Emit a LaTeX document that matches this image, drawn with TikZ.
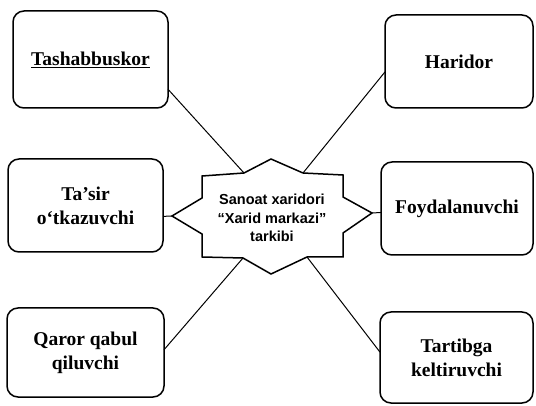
\documentclass[tikz,border=0pt]{standalone}
\usepackage{fontspec}
\setmainfont{Liberation Serif}
\newfontfamily\centerfont{Liberation Sans}
\usetikzlibrary{calc}

\begin{document}
\begin{tikzpicture}[inner sep=0pt,outer sep=0pt,x=1pt,y=-1pt,
    role_box/.style={draw, line width=1.5pt, rounded corners=11pt, align=center,
        font=\fontsize{19.5}{24}\selectfont\bfseries},
    link/.style={line width=1pt}]
    \useasboundingbox (0,0) rectangle (536,406);

    % left column
    \node[role_box, minimum width=155pt, minimum height=97pt] (box_tash) at (90.5,59.5)
    {\underline{Tashabbuskor}};
    \node[role_box, minimum width=155pt, minimum height=93pt] (box_tasir) at (85.5,205.5)
    {Ta’sir\\o‘tkazuvchi};
    \node[role_box, minimum width=157pt, minimum height=89pt] (box_qaror) at (85.5,352.5)
    {Qaror qabul\\qiluvchi};

    % right column
    \node[role_box, minimum width=148pt, minimum height=93pt] (box_harid) at (459,61.5)
    {Haridor};
    \node[role_box, minimum width=152pt, minimum height=93pt] (box_foyd) at (457,208.5)
    {Foydalanuvchi};
    \node[role_box, minimum width=153pt, minimum height=91pt] (box_tartib) at (456.5,357.5)
    {Tartibga\\keltiruvchi};

    % centre star
    \coordinate (st_left) at (172,216);
    \coordinate (st_tl) at (244,173);
    \coordinate (st_tr) at (303,173);
    \coordinate (st_right) at (372,213);
    \coordinate (st_br) at (307,257);
    \coordinate (st_bl) at (243,258);
    \draw[line width=1.5pt, line join=miter] (st_left) -- (202,198) -- (202,176) -- (st_tl)
        -- (271,159) -- (st_tr) -- (343,175) -- (343,197) -- (st_right) -- (343,233)
        -- (343,257) -- (st_br) -- (271,274) -- (st_bl) -- (202,257) -- (202,234) -- cycle;
    \node[align=center, font=\centerfont\fontsize{14.5}{18.5}\selectfont\bfseries] (centre) at (272,218)
    {Sanoat xaridori\\“Xarid markazi”\\tarkibi};

    % links
    \draw[link] (box_tash.-21) -- (st_tl);
    \draw[link] (box_harid.188) -- (st_tr);
    \draw[link] (box_tasir.-8) -- (st_left);
    \draw[link] (box_foyd.183) -- (st_right);
    \draw[link] (box_qaror.2) -- (st_bl);
    \draw[link] (box_tartib.176) -- (st_br);

\end{tikzpicture}
\end{document}
